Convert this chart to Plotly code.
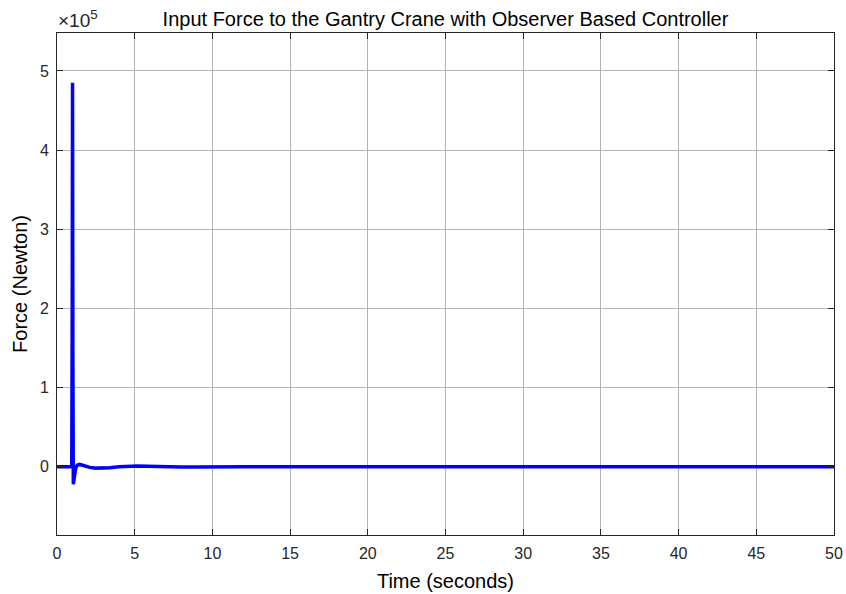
import plotly.graph_objects as go

# Control input history (time in s, force in N)
time_s = [0.0, 0.95, 0.98, 1.0, 1.02, 1.05, 1.08, 1.12, 1.2, 1.3, 1.45, 1.6, 1.8, 2.1,
          2.5, 2.9, 3.4, 4.0, 4.6, 5.2, 5.8, 6.5, 7.2, 8.0, 9.0, 10.5, 12.0, 20.0, 30.0, 40.0, 50.0]
force_n = [0.0, 0.0, 2.0e5, 4.85e5, 1.5e5, -2.2e4, -1.8e4, -9.0e3, -2.0e3, 2.0e3, 3.0e3, 2.2e3,
           8.0e2, -8.0e2, -1.8e3, -1.9e3, -1.2e3, -1.0e2, 8.0e2, 1.0e3, 7.0e2, 1.0e2, -3.0e2,
           -3.5e2, -1.5e2, 5.0e1, 3.0e1, 0.0, 0.0, 0.0, 0.0]

x_ticks = [0, 5, 10, 15, 20, 25, 30, 35, 40, 45, 50]
y_tick_vals = [0, 1e5, 2e5, 3e5, 4e5, 5e5]
y_tick_text = ["0", "1", "2", "3", "4", "5"]

FONT = "Liberation Sans, Arial, sans-serif"

fig = go.Figure()
fig.add_trace(go.Scatter(
    x=time_s, y=force_n, mode="lines",
    line=dict(color="#0000ff", width=3.5),
    showlegend=False,
))

axis_common = dict(
    showline=True, linecolor="#262626", linewidth=1, mirror="ticks",
    ticks="inside", ticklen=6, tickcolor="#262626",
    showgrid=True, gridcolor="#b4b4b4", gridwidth=1,
    zeroline=False, automargin=False,
    tickfont=dict(family=FONT, size=16, color="#262626"),
    ticklabelstandoff=4,
)

fig.update_layout(
    width=846, height=594,
    margin=dict(l=57, r=12, t=33, b=59),
    paper_bgcolor="white", plot_bgcolor="white",
    title=dict(
        text="Input Force to the Gantry Crane with Observer Based Controller",
        x=0.5, xref="paper", xanchor="center",
        y=1, yref="paper", yanchor="bottom", pad=dict(b=7),
        font=dict(family=FONT, size=20, color="#000000"),
    ),
    xaxis=dict(
        range=[0, 50], tickvals=x_ticks,
        title=dict(text="Time (seconds)", font=dict(family=FONT, size=20, color="#000000"), standoff=12),
        **axis_common,
    ),
    yaxis=dict(
        range=[-0.862e5, 5.48e5], tickvals=y_tick_vals, ticktext=y_tick_text,
        title=dict(text="Force (Newton)", font=dict(family=FONT, size=20, color="#000000"), standoff=6),
        **axis_common,
    ),
    annotations=[dict(
        text="×10<sup>5</sup>", xref="paper", yref="paper",
        x=-0.001, y=1.0, xanchor="left", yanchor="bottom",
        showarrow=False, font=dict(family=FONT, size=19, color="#262626"),
    )],
)

fig.write_html("out.html")
